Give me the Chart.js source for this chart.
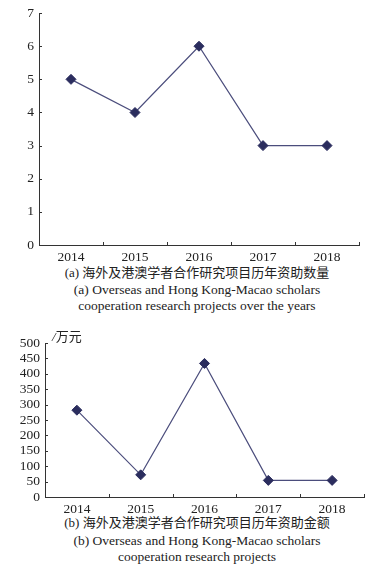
<!DOCTYPE html>
<html>
<head>
<meta charset="utf-8">
<script src="https://cdn.jsdelivr.net/npm/chart.js@4"></script>
<style>
  html, body { margin: 0; padding: 0; background: #fff; }
  #wrap { position: relative; width: 374px; height: 574px; overflow: hidden; background: #fff; }
  canvas { position: absolute; left: 0; }
  .cap { position: absolute; left: 0; width: 394px; text-align: center; color: #222;
         font-family: "Liberation Serif", "Times New Roman", "Noto Sans CJK SC", serif; white-space: nowrap; }
  .cn { font-size: 13px; line-height: 16px; }
  .en { font-size: 13.5px; line-height: 16px; }
  #unit { position: absolute; left: 52px; top: 326px; font-family: "Liberation Serif", "Noto Sans CJK SC", serif; font-size: 13px; color: #222; }
</style>
</head>
<body>
<div id="wrap">
  <canvas id="c1" width="374" height="262" style="top:0px"></canvas>
  <div class="cap cn" style="top:265px">(a) 海外及港澳学者合作研究项目历年资助数量</div>
  <div class="cap en" style="top:282px">(a) Overseas and Hong Kong-Macao scholars</div>
  <div class="cap en" style="top:298px">cooperation research projects over the years</div>

  <canvas id="c2" width="374" height="184" style="top:330px"></canvas>
  <div id="unit"><i>/</i>万元</div>
  <div class="cap cn" style="top:515px">(b) 海外及港澳学者合作研究项目历年资助金额</div>
  <div class="cap en" style="top:533px">(b) Overseas and Hong Kong-Macao scholars</div>
  <div class="cap en" style="top:549px">cooperation research projects</div>
</div>
<script>
const years = ['2014', '2015', '2016', '2017', '2018'];
const projectCounts = [5, 4, 6, 3, 3];
const fundingAmounts = [282, 72, 434, 54, 54];
const countAxis = { min: 0, max: 7, step: 1 };
const amountAxis = { min: 0, max: 500, step: 50 };

const markColor = '#2b2d5e';
const lineColor = '#4b4d7c';
const axisColor = '#333';
const fontSpec = { family: '"Liberation Serif", "Times New Roman", serif', size: 13.5 };

const innerTicks = {
  id: 'innerTicks',
  afterDraw(chart) {
    const ctx = chart.ctx;
    const x = chart.scales.x, y = chart.scales.y;
    const area = chart.chartArea;
    ctx.save();
    ctx.strokeStyle = axisColor;
    ctx.lineWidth = 1;
    ctx.beginPath();
    const n = x.getLabels().length;
    const half = (x.getPixelForValue(1) - x.getPixelForValue(0)) / 2;
    for (let i = 0; i <= n; i++) {
      const px = Math.round(x.getPixelForValue(i) - half) + 0.5;
      ctx.moveTo(px, area.bottom);
      ctx.lineTo(px, area.bottom - 3);
    }
    y.ticks.forEach((t) => {
      const py = Math.round(y.getPixelForValue(t.value)) + 0.5;
      ctx.moveTo(area.left, py);
      ctx.lineTo(area.left + 3, py);
    });
    ctx.stroke();
    ctx.restore();
  }
};

function makeChart(id, values, axis, yWidth, pad) {
  return new Chart(document.getElementById(id), {
    type: 'line',
    data: {
      labels: years,
      datasets: [{
        data: values,
        borderColor: lineColor,
        borderWidth: 1.2,
        tension: 0,
        pointStyle: 'rectRot',
        pointRadius: 5,
        pointBackgroundColor: markColor,
        pointBorderColor: markColor,
        pointBorderWidth: 1
      }]
    },
    options: {
      responsive: false,
      animation: false,
      layout: { padding: pad },
      plugins: { legend: { display: false }, tooltip: { enabled: false } },
      scales: {
        x: {
          offset: true,
          grid: { display: true, drawOnChartArea: false, drawTicks: false, color: 'transparent' },
          border: { display: true, color: axisColor, width: 1 },
          ticks: { color: '#222', font: fontSpec, padding: 4, maxRotation: 0, autoSkip: false },
          afterFit(s) { s.height = 17; }
        },
        y: {
          min: axis.min, max: axis.max,
          grid: { display: true, drawOnChartArea: false, drawTicks: false, color: 'transparent' },
          border: { display: true, color: axisColor, width: 1 },
          ticks: { stepSize: axis.step, color: '#222', font: fontSpec, padding: 5, autoSkip: false },
          afterFit(s) { s.width = yWidth; }
        }
      }
    },
    plugins: [innerTicks]
  });
}

makeChart('c1', projectCounts, countAxis, 39, { top: 8, right: 15, bottom: 0, left: 0 });
makeChart('c2', fundingAmounts, amountAxis, 45, { top: 10, right: 10, bottom: 0, left: 0 });
</script>
</body>
</html>
